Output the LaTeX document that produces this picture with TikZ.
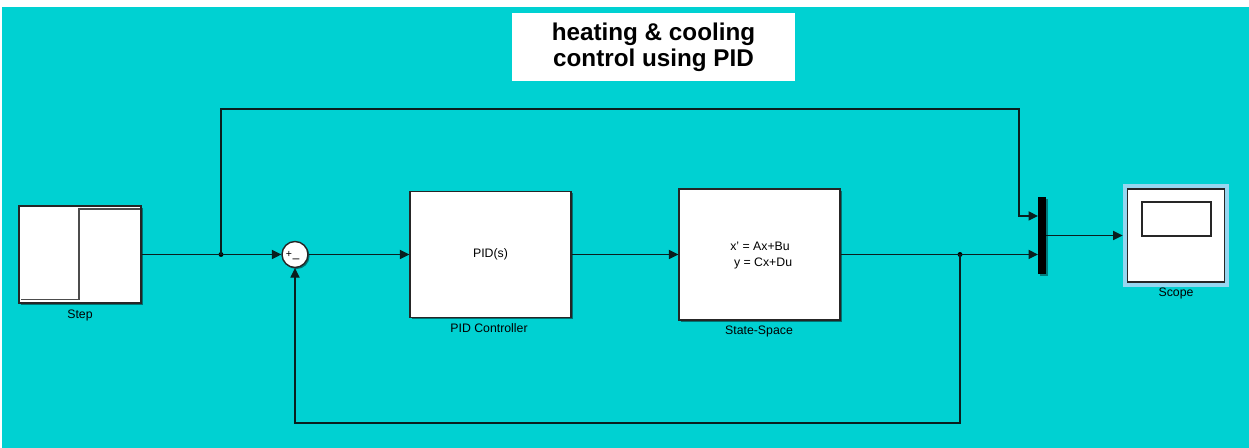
\documentclass[tikz,border=0pt]{standalone}
\usepackage{fontspec}
\setmainfont{Liberation Sans}
\usetikzlibrary{arrows.meta,shadows}
\definecolor{bgcyan}{RGB}{0,209,210}
\definecolor{scopeframe}{RGB}{150,214,240}
\definecolor{wire}{RGB}{10,30,30}
\tikzset{
  blk/.style={draw=black!85, line width=0.8pt, fill=white, inner sep=0pt,
    drop shadow={shadow xshift=0.9pt, shadow yshift=-0.9pt, opacity=0.45, fill=black}},
  lbl/.style={font=\fontsize{7}{8}\selectfont, inner sep=0pt},
  sig/.style={draw=wire, line width=0.75pt},
  arr/.style={sig, -{Triangle[length=5.4pt,width=5.2pt]}},
  jdot/.style={circle, fill=black, inner sep=0pt, minimum size=2.8pt}
}
\begin{document}
\begin{tikzpicture}[x=0.02cm,y=-0.02cm]
\useasboundingbox (0,0) rectangle (1249,448);
\fill[white] (0,0) rectangle (1249,448);
\fill[bgcyan] (2,7) rectangle (1249,448);

% title
\node[fill=white, minimum width=5.66cm, minimum height=1.36cm, inner sep=0pt,
  align=center, font=\bfseries\fontsize{13.8}{15}\selectfont] (title) at (653.5,47)
  {heating \& cooling\\control using PID};

% blocks
\node[blk, minimum width=2.44cm, minimum height=1.94cm] (step) at (80,254.5) {};
\draw[draw=black!70, line width=0.7pt] (21,299.5) -- (79,299.5) -- (79,209) -- (139.5,209);
\node[lbl] (steplbl) at (80,315) {Step};

\node[blk, circle, minimum size=0.52cm] (sum) at (295,254.5) {};
\node[font=\fontsize{6}{6}\selectfont, inner sep=0pt] (plus) at (289,254) {+};
\node[font=\fontsize{7}{7}\selectfont, inner sep=0pt] (minus) at (296,260.5) {\textendash};

\node[blk, minimum width=3.22cm, minimum height=2.52cm] (pid) at (490.5,254.5) {};
\node[lbl] (pidtxt) at (490.5,254.5) {PID(s)};
\node[lbl] (pidlbl) at (489,328) {PID Controller};

\node[blk, minimum width=3.22cm, minimum height=2.62cm] (ss) at (759.5,254.5) {};
\node[lbl, align=center, font=\fontsize{7}{9.2}\selectfont] (sstxt) at (760,255.5)
  {x' = Ax+Bu\\\phantom{x}y = Cx+Du};
\node[lbl] (sslbl) at (759,331) {State-Space};

\node[fill=black, inner sep=0pt, minimum width=0.16cm, minimum height=1.54cm,
  drop shadow={shadow xshift=0.9pt, shadow yshift=-0.9pt, opacity=0.4, fill=black}] (mux) at (1042,235.5) {};

\node[fill=scopeframe, inner sep=0pt, minimum width=2.12cm, minimum height=2.06cm] (scope) at (1176,235.5) {};
\node[draw=black!85, line width=0.8pt, fill=white, inner sep=0pt, minimum width=1.94cm, minimum height=1.86cm] (scopein) at (1176,235.5) {};
\node[draw=black!85, line width=0.8pt, fill=white, inner sep=0pt, minimum width=1.38cm, minimum height=0.68cm] (screen) at (1176.5,219) {};
\node[lbl] (scopelbl) at (1176,293) {Scope};

% junctions
\coordinate (b1) at (221,254.5);
\coordinate (b2) at (960,254.5);
\coordinate (m1) at (1038,216);
\coordinate (m2) at (1038,254.5);
\node[jdot] (d1) at (b1) {};
\node[jdot] (d2) at (b2) {};

% wires
\draw[arr] (step.east) -- (sum.west);
\draw[arr] (sum.east) -- (pid.west);
\draw[arr] (pid.east) -- (ss.west);
\draw[arr] (ss.east) -- (m2);
\draw[arr] (b1) -- (221,109) -- (1019,109) -- (1019,216) -- (m1);
\draw[arr] (b2) -- (960,423) -- (295,423) -- (sum.south);
\draw[arr] (mux.east |- 0,235.5) -- (scope.west);
\end{tikzpicture}
\end{document}
